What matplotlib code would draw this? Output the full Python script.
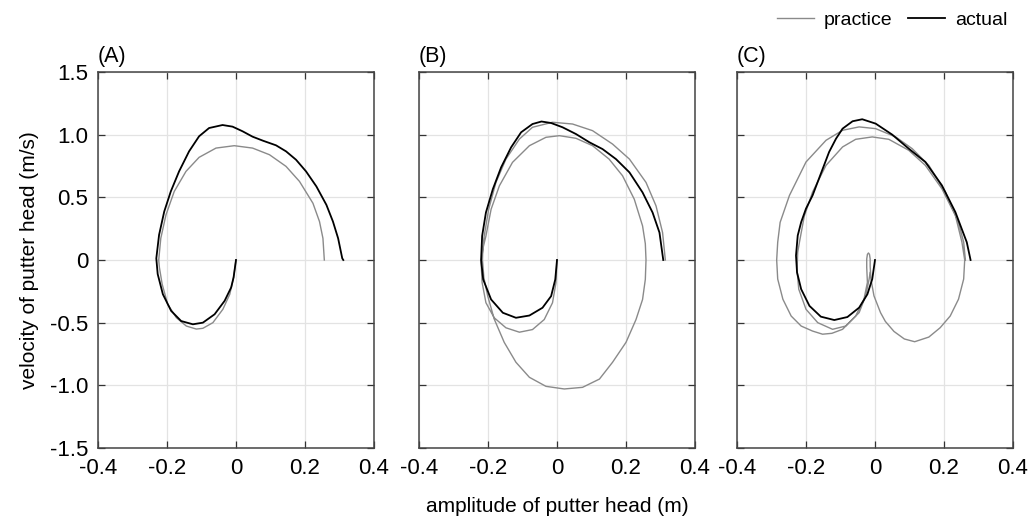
import numpy as np
import matplotlib.pyplot as plt

plt.rcParams['font.family'] = ['Liberation Sans', 'DejaVu Sans']

# panel (A)
a_practice_x = [0, -0.007, -0.018, -0.038, -0.067, -0.096, -0.115, -0.144, -0.173, -0.198, -0.214, -0.222,
                -0.224, -0.218, -0.203, -0.179, -0.145, -0.107, -0.058, -0.005, 0.048, 0.097, 0.145, 0.184,
                0.223, 0.242, 0.252, 0.256]
a_practice_y = [0, -0.139, -0.273, -0.393, -0.5, -0.545, -0.551, -0.527, -0.46, -0.353, -0.193, -0.06,
                0.0, 0.173, 0.36, 0.547, 0.707, 0.819, 0.893, 0.912, 0.893, 0.84, 0.747, 0.627,
                0.453, 0.307, 0.173, 0]
a_actual_x = [0, -0.007, -0.014, -0.033, -0.062, -0.096, -0.125, -0.159, -0.188, -0.212, -0.227, -0.231,
              -0.223, -0.208, -0.189, -0.165, -0.136, -0.107, -0.078, -0.039, -0.01, 0.019, 0.048, 0.078,
              0.116, 0.145, 0.174, 0.203, 0.233, 0.262, 0.281, 0.296, 0.308, 0.311]
a_actual_y = [0, -0.139, -0.219, -0.326, -0.433, -0.5, -0.513, -0.487, -0.406, -0.273, -0.112, 0.013,
              0.2, 0.387, 0.547, 0.707, 0.867, 0.987, 1.053, 1.077, 1.064, 1.027, 0.984, 0.952,
              0.915, 0.867, 0.8, 0.707, 0.587, 0.44, 0.307, 0.173, 0.013, 0]

# panel (B)
b_practice_x = [0, -0.003, -0.013, -0.037, -0.071, -0.109, -0.148, -0.182, -0.206, -0.217, -0.22, -0.214,
                -0.206, -0.191, -0.167, -0.129, -0.08, -0.032, 0.007, 0.055, 0.103, 0.151, 0.19, 0.224,
                0.248, 0.256, 0.258, 0.256, 0.248, 0.229, 0.2, 0.161, 0.123, 0.074, 0.021, -0.032, -0.08,
                -0.119, -0.153, -0.182, -0.201, -0.212, -0.216, -0.215, -0.211, -0.198, -0.177, -0.148,
                -0.109, -0.071, -0.013, 0.045, 0.103, 0.161, 0.21, 0.258, 0.287, 0.306, 0.314]
b_practice_y = [0, -0.181, -0.341, -0.475, -0.555, -0.576, -0.541, -0.461, -0.341, -0.181, -0.02, 0.1,
                0.192, 0.405, 0.592, 0.779, 0.912, 0.979, 0.992, 0.971, 0.912, 0.805, 0.672, 0.485,
                0.272, 0.13, 0.0, -0.155, -0.315, -0.475, -0.657, -0.816, -0.95, -1.016, -1.029, -1.008, -0.936,
                -0.816, -0.657, -0.471, -0.285, -0.14, 0.0, 0.1, 0.192, 0.405, 0.619, 0.805,
                0.965, 1.059, 1.099, 1.085, 1.032, 0.925, 0.805, 0.619, 0.432, 0.219, 0]
b_actual_x = [0, -0.005, -0.017, -0.042, -0.08, -0.119, -0.157, -0.191, -0.214, -0.22, -0.217, -0.206,
              -0.186, -0.162, -0.133, -0.104, -0.071, -0.045, -0.017, 0.016, 0.055, 0.094, 0.132, 0.171,
              0.21, 0.248, 0.277, 0.297, 0.308]
b_actual_y = [0, -0.155, -0.288, -0.381, -0.443, -0.461, -0.421, -0.315, -0.155, 0, 0.192, 0.379,
              0.565, 0.739, 0.899, 1.019, 1.085, 1.105, 1.093, 1.059, 1.005, 0.939, 0.885, 0.805,
              0.699, 0.539, 0.379, 0.219, 0]

# panel (C)
c_practice_x = [-0.014, -0.017, -0.027, -0.046, -0.085, -0.123, -0.166, -0.2, -0.221, -0.226, -0.224, -0.219,
                -0.205, -0.181, -0.142, -0.094, -0.056, -0.008, 0.04, 0.098, 0.146, 0.194, 0.233, 0.252,
                0.26, 0.257, 0.242, 0.218, 0.189, 0.156, 0.115, 0.085, 0.055, 0.03, 0.016, -0.003, -0.012,
                -0.014, -0.014, -0.016, -0.019, -0.022, -0.024, -0.024, -0.022,
                -0.032, -0.056, -0.094, -0.125, -0.152, -0.181, -0.214, -0.243, -0.267, -0.282, -0.285,
                -0.282, -0.275, -0.248, -0.2, -0.142, -0.094, -0.046, 0.002, 0.06, 0.108, 0.156, 0.204,
                0.242, 0.257, 0.262]
c_practice_y = [-0.1, -0.152, -0.286, -0.42, -0.527, -0.553, -0.5, -0.393, -0.233, -0.08, 0.062, 0.142,
                0.35, 0.542, 0.755, 0.902, 0.963, 0.982, 0.963, 0.875, 0.755, 0.568, 0.355, 0.142,
                0.0, -0.152, -0.313, -0.447, -0.54, -0.615, -0.652, -0.63, -0.57, -0.49, -0.42, -0.286, -0.15,
                -0.05, 0.008, 0.045, 0.056, 0.045, 0.008, -0.06, -0.179,
                -0.313, -0.447, -0.553, -0.585, -0.592, -0.567, -0.527, -0.447, -0.313, -0.152, 0.0,
                0.142, 0.3, 0.515, 0.782, 0.955, 1.035, 1.062, 1.048, 0.982, 0.888, 0.755, 0.542,
                0.302, 0.142, 0.0]
c_actual_x = [0, -0.008, -0.022, -0.046, -0.08, -0.118, -0.157, -0.19, -0.214, -0.226, -0.229, -0.224,
              -0.214, -0.2, -0.181, -0.133, -0.113, -0.094, -0.065, -0.037, 0.002, 0.05, 0.098, 0.146,
              0.194, 0.233, 0.266, 0.277]
c_actual_y = [0, -0.152, -0.273, -0.38, -0.455, -0.479, -0.452, -0.366, -0.233, -0.099, 0.035, 0.195,
              0.302, 0.41, 0.515, 0.862, 0.968, 1.048, 1.107, 1.123, 1.088, 1.0, 0.888, 0.782,
              0.595, 0.382, 0.142, 0.0]

xticks = [-0.4, -0.2, 0, 0.2, 0.4]
xticklabels = ['-0.4', '-0.2', '0', '0.2', '0.4']
yticks = [-1.5, -1.0, -0.5, 0, 0.5, 1.0, 1.5]
yticklabels = ['-1.5', '-1.0', '-0.5', '0', '0.5', '1.0', '1.5']

panels = [('(A)', a_practice_x, a_practice_y, a_actual_x, a_actual_y),
          ('(B)', b_practice_x, b_practice_y, b_actual_x, b_actual_y),
          ('(C)', c_practice_x, c_practice_y, c_actual_x, c_actual_y)]
lefts = [98, 419, 737]

fig = plt.figure(figsize=(10.35, 5.22), dpi=100)
for i, (lab, px, py, ax_, ay_) in enumerate(panels):
    ax = fig.add_axes([lefts[i] / 1035, 1 - 448 / 522, 276 / 1035, 376 / 522])
    ax.grid(True, color='#e3e3e3', lw=0.9)
    ax.set_axisbelow(True)
    l1, = ax.plot(px, py, color='#8a8a8a', lw=1.0, solid_joinstyle='round')
    l2, = ax.plot(ax_, ay_, color='black', lw=1.3, solid_joinstyle='round')
    ax.set_xlim(-0.4, 0.4)
    ax.set_ylim(-1.5, 1.5)
    ax.set_xticks(xticks)
    ax.set_yticks(yticks)
    ax.set_xticklabels(xticklabels)
    if i == 0:
        ax.set_yticklabels(yticklabels)
        ax.set_ylabel('velocity of putter head (m/s)', fontsize=15, labelpad=8)
    else:
        ax.set_yticklabels([])
    if i == 1:
        ax.set_xlabel('amplitude of putter head (m)', fontsize=15, labelpad=13)
    ax.tick_params(direction='in', top=True, right=True, length=5, width=0.9,
                   colors='#333333', labelcolor='black', labelsize=16, pad=7)
    for s in ax.spines.values():
        s.set_color('#444444')
        s.set_linewidth(1.1)
    ax.text(0, 1.012, lab, transform=ax.transAxes, fontsize=15.5, ha='left', va='bottom')

fig.legend([l1, l2], ['practice', 'actual'], loc='upper right', bbox_to_anchor=(0.99, 1.012),
           ncol=2, frameon=False, fontsize=14, handlelength=1.9, columnspacing=0.8, handletextpad=0.5)

fig.savefig('out.png', dpi=100)
